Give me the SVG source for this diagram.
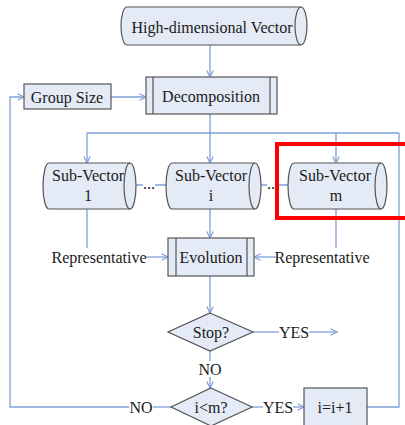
<svg xmlns="http://www.w3.org/2000/svg" width="405" height="425" viewBox="0 0 405 425">
  <defs>
    <marker id="arrow" markerUnits="userSpaceOnUse" markerWidth="10" markerHeight="10" refX="7" refY="4" orient="auto">
      <path d="M0.5,0.8 L7,4 L0.5,7.2" fill="none" stroke="#7f9fd8" stroke-width="1.2"/>
    </marker>
    <style>
      text { font-family: "Liberation Serif", "Times New Roman", serif; font-size: 16px; fill: #1a1a1a; text-anchor: middle; dominant-baseline: central; }
      .shape { fill: #e4eaf6; stroke: #555; stroke-width: 1.2; }
      .bar { fill: none; stroke: #555; stroke-width: 1.2; }
      .link { fill: none; stroke: #7f9fd8; stroke-width: 1.3; }
      .arrow { marker-end: url(#arrow); }
      .highlight { fill: none; stroke: #ff0000; stroke-width: 4; }
    </style>
  </defs>

  <rect width="405" height="425" fill="#ffffff"/>

  <!-- connectors -->
  <g id="connectors">
    <path class="link arrow" d="M210,45 V77"/>
    <path class="link arrow" d="M111,97 H146"/>
    <path class="link" d="M210,114 V133 M87,133 H399"/>
    <path class="link arrow" d="M87,133 V163"/>
    <path class="link arrow" d="M210,133 V163"/>
    <path class="link arrow" d="M336,133 V163"/>
    <path class="link" d="M399,133 V407 H367"/>
    <path class="link" d="M87,209 V248"/>
    <path class="link" d="M336,209 V248"/>
    <path class="link arrow" d="M146,257 H168"/>
    <path class="link arrow" d="M276,257 H254"/>
    <path class="link arrow" d="M210,209 V238"/>
    <path class="link arrow" d="M210,276 V313"/>
    <path class="link" d="M253,332 H279"/>
    <path class="link arrow" d="M309,332 H337"/>
    <path class="link" d="M210,351 V361"/>
    <path class="link arrow" d="M210,377 V388"/>
    <path class="link" d="M252,407 H263"/>
    <path class="link arrow" d="M293,407 H304"/>
    <path class="link" d="M171,407 H153"/>
    <path class="link arrow" d="M129,407 H10 V97 H24"/>
    <path class="link" d="M131,185 H143 M155,185 H166"/>
    <path class="link" d="M257,185 H267 M279,185 H289"/>
    <text x="149" y="183">...</text>
    <text x="273" y="183">...</text>
    <text x="294" y="332">YES</text>
    <text x="210" y="369">NO</text>
    <text x="278" y="407">YES</text>
    <text x="141" y="407">NO</text>
    <text x="99" y="257">Representative</text>
    <text x="322" y="257">Representative</text>
  </g>

  <g id="high-dimensional-vector">
    <path class="shape" d="M127,7 H301 A6,19 0 0 1 301,45 H127 A6,19 0 0 1 127,7 Z"/>
    <path class="bar" d="M301,7 A6,19 0 0 0 301,45"/>
    <text x="212" y="27">High-dimensional Vector</text>
  </g>

  <g id="group-size">
    <rect class="shape" x="24" y="84" width="87" height="25"/>
    <text x="67" y="97">Group Size</text>
  </g>

  <g id="decomposition">
    <rect class="shape" x="146" y="77" width="131" height="37"/>
    <path class="bar" d="M153,77 V114 M270,77 V114"/>
    <text x="211" y="96">Decomposition</text>
  </g>

  <g id="sub-vector-1">
    <path class="shape" d="M49,163 H130 A6,23 0 0 1 130,209 H49 A6,23 0 0 1 49,163 Z"/>
    <path class="bar" d="M130,163 A6,23 0 0 0 130,209"/>
    <text x="88" y="175">Sub-Vector</text>
    <text x="88" y="195">1</text>
  </g>

  <g id="sub-vector-i">
    <path class="shape" d="M172,163 H255 A6,23 0 0 1 255,209 H172 A6,23 0 0 1 172,163 Z"/>
    <path class="bar" d="M255,163 A6,23 0 0 0 255,209"/>
    <text x="211" y="175">Sub-Vector</text>
    <text x="211" y="195">i</text>
  </g>

  <g id="sub-vector-m">
    <path class="shape" d="M294,163 H381 A6,23 0 0 1 381,209 H294 A6,23 0 0 1 294,163 Z"/>
    <path class="bar" d="M381,163 A6,23 0 0 0 381,209"/>
    <text x="335" y="175">Sub-Vector</text>
    <text x="336" y="195">m</text>
  </g>

  <g id="evolution">
    <rect class="shape" x="168" y="238" width="86" height="38"/>
    <path class="bar" d="M176,238 V276 M247,238 V276"/>
    <text x="211" y="257">Evolution</text>
  </g>

  <g id="stop">
    <polygon class="shape" points="210,313 253,332 210,351 168,332"/>
    <text x="211" y="332">Stop?</text>
  </g>

  <g id="i-less-than-m">
    <polygon class="shape" points="211,388 252,407 211,426 171,407"/>
    <text x="211" y="407">i&lt;m?</text>
  </g>

  <g id="increment">
    <rect class="shape" x="304" y="388" width="63" height="42"/>
    <text x="335" y="407">i=i+1</text>
  </g>

  <rect id="highlight-box" class="highlight" x="277" y="144" width="140" height="74"/>
</svg>
